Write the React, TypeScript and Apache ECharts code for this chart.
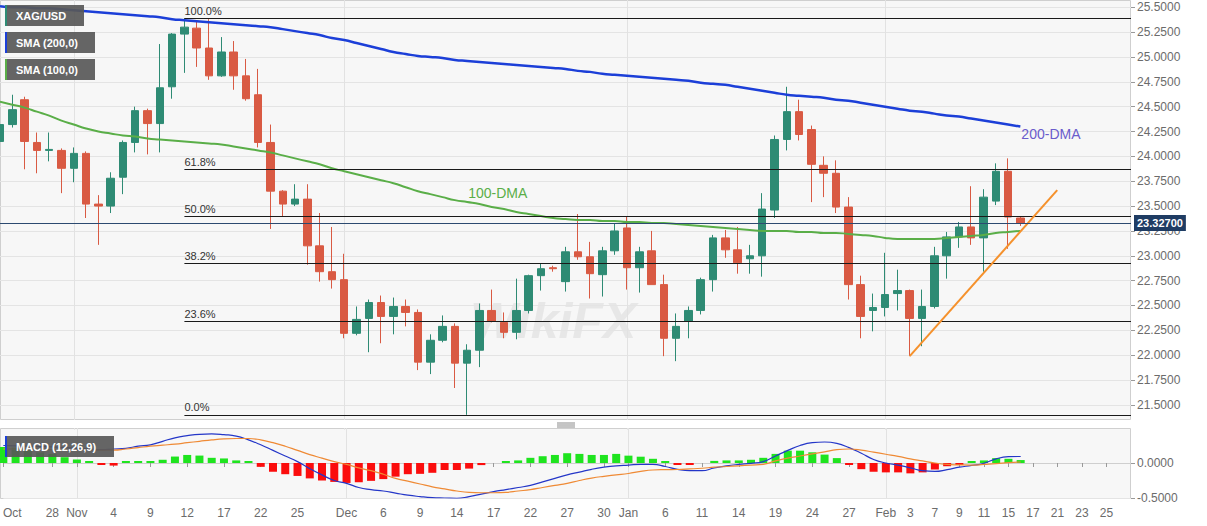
import { useEffect, useRef } from "react";
import * as echarts from "echarts";

// trading days (future days on the right are left empty)
const dates = [
  "2021-10-22", "2021-10-25", "2021-10-26", "2021-10-27", "2021-10-28", "2021-10-29",
  "2021-11-01", "2021-11-02", "2021-11-03", "2021-11-04", "2021-11-05",
  "2021-11-08", "2021-11-09", "2021-11-10", "2021-11-11", "2021-11-12",
  "2021-11-15", "2021-11-16", "2021-11-17", "2021-11-18", "2021-11-19",
  "2021-11-22", "2021-11-23", "2021-11-24", "2021-11-25", "2021-11-26",
  "2021-11-29", "2021-11-30", "2021-12-01", "2021-12-02", "2021-12-03",
  "2021-12-06", "2021-12-07", "2021-12-08", "2021-12-09", "2021-12-10",
  "2021-12-13", "2021-12-14", "2021-12-15", "2021-12-16", "2021-12-17",
  "2021-12-20", "2021-12-21", "2021-12-22", "2021-12-23", "2021-12-24",
  "2021-12-27", "2021-12-28", "2021-12-29", "2021-12-30", "2021-12-31",
  "2022-01-03", "2022-01-04", "2022-01-05", "2022-01-06", "2022-01-07",
  "2022-01-10", "2022-01-11", "2022-01-12", "2022-01-13", "2022-01-14",
  "2022-01-17", "2022-01-18", "2022-01-19", "2022-01-20", "2022-01-21",
  "2022-01-24", "2022-01-25", "2022-01-26", "2022-01-27", "2022-01-28",
  "2022-01-31", "2022-02-01", "2022-02-02", "2022-02-03", "2022-02-04",
  "2022-02-07", "2022-02-08", "2022-02-09", "2022-02-10", "2022-02-11",
  "2022-02-14", "2022-02-15", "2022-02-16", "2022-02-17", "2022-02-18",
  "2022-02-21", "2022-02-22", "2022-02-23", "2022-02-24", "2022-02-25",
  "2022-02-28", "2022-03-01"
];

const tickDates = [
  "2021-10-22", "2021-10-28", "2021-11-01", "2021-11-04", "2021-11-09", "2021-11-12",
  "2021-11-17", "2021-11-22", "2021-11-25", "2021-12-01", "2021-12-06", "2021-12-09",
  "2021-12-14", "2021-12-17", "2021-12-22", "2021-12-27", "2021-12-30", "2022-01-03",
  "2022-01-06", "2022-01-11", "2022-01-14", "2022-01-19", "2022-01-24", "2022-01-27",
  "2022-02-01", "2022-02-03", "2022-02-07", "2022-02-09", "2022-02-11", "2022-02-15",
  "2022-02-17", "2022-02-21", "2022-02-23", "2022-02-25"
];
const tickLabels = [
  "Oct", "28", "Nov", "4", "9", "12",
  "17", "22", "25", "Dec", "6", "9",
  "14", "17", "22", "27", "30", "Jan",
  "6", "11", "14", "19", "24", "27",
  "Feb", "3", "7", "9", "11", "15",
  "17", "21", "23", "25"
];
const monthStarts = ["2021-11-01", "2021-12-01", "2022-01-03", "2022-02-01"];

const opens = [
  24.15, 24.32, 24.57, 24.14, 24.06, 24.06, 23.88, 24.03, 23.52, 23.50,
  23.79, 24.14, 24.46, 24.33, 24.70, 25.23, 25.29, 25.09, 24.81, 25.05,
  24.81, 24.62, 24.14, 23.65, 23.52, 23.57, 23.10, 22.84, 22.76, 22.22,
  22.37, 22.53, 22.39, 22.49, 22.43, 21.93, 22.15, 22.29, 21.92, 22.05,
  22.45, 22.33, 22.23, 22.45, 22.80, 22.88, 22.74, 23.04, 22.99, 22.81,
  23.05, 23.28, 22.88, 23.05, 22.71, 22.17, 22.34, 22.45, 22.76, 23.18,
  23.06, 22.97, 23.00, 23.46, 24.17, 24.45, 24.27, 23.91, 23.83, 23.49,
  22.71, 22.45, 22.48, 22.62, 22.65, 22.37, 22.49, 23.00, 23.19, 23.29,
  23.18, 23.55, 23.85, 23.38
];
const closes = [
  24.32, 24.47, 24.15, 24.06, 24.07, 23.88, 24.03, 23.52, 23.50, 23.78,
  24.14, 24.46, 24.33, 24.69, 25.23, 25.30, 25.09, 24.81, 25.05, 24.81,
  24.58, 24.14, 23.65, 23.52, 23.57, 23.10, 22.84, 22.76, 22.22, 22.36,
  22.53, 22.39, 22.49, 22.43, 21.93, 22.15, 22.29, 21.92, 22.05, 22.45,
  22.34, 22.23, 22.45, 22.80, 22.87, 22.87, 23.04, 22.99, 22.82, 23.05,
  23.25, 22.88, 23.04, 22.71, 22.17, 22.29, 22.45, 22.76, 23.18, 23.06,
  22.93, 23.00, 23.47, 24.17, 24.45, 24.22, 23.92, 23.83, 23.49, 22.71,
  22.39, 22.48, 22.61, 22.65, 22.37, 22.49, 23.00, 23.19, 23.29, 23.18,
  23.59, 23.85, 23.39, 23.327
];
const lows = [
  24.10, 24.29, 23.87, 23.83, 23.95, 23.63, 23.74, 23.38, 23.11, 23.43,
  23.62, 24.04, 24.02, 24.04, 24.58, 24.84, 24.90, 24.77, 24.80, 24.67,
  24.56, 24.09, 23.27, 23.39, 23.50, 22.91, 22.74, 22.67, 22.17, 22.20,
  22.03, 22.12, 22.21, 22.29, 21.85, 21.81, 22.13, 21.67, 21.40, 21.88,
  22.33, 22.17, 22.16, 22.42, 22.65, 22.84, 22.64, 22.96, 22.57, 22.59,
  23.01, 22.66, 22.63, 22.71, 21.99, 21.94, 22.17, 22.41, 22.64, 22.98,
  22.82, 22.82, 22.79, 23.38, 24.06, 24.16, 23.54, 23.59, 23.43, 22.56,
  22.17, 22.24, 22.39, 22.45, 21.99, 22.09, 22.47, 22.77, 23.08, 23.11,
  22.84, 23.51, 23.07, 23.30
];
const highs = [
  24.45, 24.62, 24.60, 24.24, 24.24, 24.08, 24.09, 24.05, 23.61, 23.84,
  24.16, 24.50, 24.48, 25.13, 25.24, 25.39, 25.37, 25.38, 25.20, 25.16,
  24.98, 24.88, 24.32, 23.66, 23.72, 23.72, 23.43, 23.29, 23.02, 22.49,
  22.56, 22.60, 22.58, 22.56, 22.46, 22.21, 22.40, 22.32, 22.11, 22.52,
  22.66, 22.43, 22.77, 22.81, 22.92, 22.90, 23.09, 23.42, 23.14, 23.09,
  23.33, 23.39, 23.09, 23.25, 22.81, 22.42, 22.49, 22.78, 23.21, 23.26,
  23.29, 23.11, 23.63, 24.21, 24.70, 24.57, 24.31, 24.00, 23.96, 23.59,
  22.80, 22.62, 23.03, 22.86, 22.66, 22.66, 23.09, 23.24, 23.34, 23.70,
  23.67, 23.93, 23.98, 23.39
];

const sma200 = [
  25.51, 25.50, 25.50, 25.49, 25.49, 25.48, 25.47, 25.46, 25.45, 25.44,
  25.43, 25.42, 25.41, 25.40, 25.38, 25.37, 25.36, 25.35, 25.34, 25.33,
  25.32, 25.31, 25.30, 25.28, 25.26, 25.24, 25.22, 25.19, 25.17, 25.14,
  25.11, 25.08, 25.05, 25.03, 25.01, 25.00, 24.99, 24.97, 24.96, 24.95,
  24.94, 24.93, 24.92, 24.91, 24.90, 24.89, 24.88, 24.86, 24.85, 24.83,
  24.82, 24.81, 24.80, 24.79, 24.78, 24.77, 24.76, 24.74, 24.73, 24.72,
  24.70, 24.68, 24.66, 24.64, 24.62, 24.61, 24.60, 24.59, 24.57, 24.56,
  24.54, 24.52, 24.50, 24.48, 24.46, 24.45, 24.43, 24.41, 24.40, 24.38,
  24.36, 24.34, 24.32, 24.30
];
const sma100 = [
  24.55, 24.52, 24.49, 24.45, 24.41, 24.36, 24.32, 24.28, 24.25, 24.23,
  24.21, 24.20, 24.18, 24.17, 24.16, 24.15, 24.14, 24.13, 24.12, 24.10,
  24.08, 24.06, 24.04, 24.01, 23.98, 23.95, 23.92, 23.88, 23.85, 23.82,
  23.79, 23.76, 23.73, 23.69, 23.65, 23.62, 23.59, 23.56, 23.54, 23.52,
  23.49, 23.47, 23.44, 23.42, 23.40, 23.38, 23.37, 23.36, 23.36, 23.35,
  23.35, 23.34, 23.34, 23.33, 23.33, 23.32, 23.31, 23.30, 23.29, 23.28,
  23.27, 23.26, 23.25, 23.25, 23.25, 23.24, 23.24, 23.23, 23.23, 23.22,
  23.21, 23.20, 23.18, 23.17, 23.17, 23.17, 23.17, 23.18, 23.19, 23.20,
  23.21, 23.23, 23.24, 23.25
];

const macdLine = [
  0.25, 0.245, 0.24, 0.235, 0.23, 0.22, 0.21, 0.20, 0.19, 0.20,
  0.21, 0.24, 0.26, 0.31, 0.36, 0.39, 0.41, 0.415, 0.405, 0.385,
  0.33, 0.26, 0.18, 0.10, 0.02, -0.08, -0.17, -0.25, -0.29, -0.35,
  -0.38, -0.40, -0.43, -0.46, -0.48, -0.495, -0.50, -0.505, -0.48, -0.445,
  -0.41, -0.38, -0.35, -0.32, -0.27, -0.22, -0.17, -0.13, -0.09, -0.06,
  -0.04, -0.03, -0.02, -0.02, -0.05, -0.09, -0.11, -0.11, -0.07, -0.04,
  -0.02, -0.005, 0.02, 0.10, 0.18, 0.25, 0.29, 0.30, 0.28, 0.22,
  0.14, 0.05, 0.0, -0.03, -0.07, -0.11, -0.12, -0.095, -0.06, -0.035,
  -0.005, 0.06, 0.09, 0.093
];
const signalLine = [
  0.20, 0.20, 0.20, 0.20, 0.19, 0.19, 0.19, 0.185, 0.185, 0.185,
  0.20, 0.22, 0.24, 0.255, 0.27, 0.29, 0.31, 0.33, 0.345, 0.35,
  0.35, 0.33, 0.29, 0.24, 0.18, 0.12, 0.07, 0.02, -0.02, -0.07,
  -0.11, -0.16, -0.22, -0.26, -0.30, -0.34, -0.37, -0.40, -0.42, -0.425,
  -0.425, -0.42, -0.40, -0.38, -0.35, -0.32, -0.29, -0.25, -0.215, -0.19,
  -0.17, -0.15, -0.12, -0.10, -0.095, -0.093, -0.085, -0.075, -0.06, -0.05,
  -0.04, -0.03, -0.02, 0.03, 0.07, 0.10, 0.13, 0.16, 0.19, 0.20,
  0.185, 0.155, 0.125, 0.095, 0.06, 0.03, 0.0, -0.02, -0.027, -0.03,
  -0.02, -0.01, 0.005, 0.014
];
const macdHist = [
  0.23, 0.22, 0.185, 0.15, 0.13, 0.083, 0.05, 0.005, -0.028, -0.037,
  0.01, 0.014, 0.028, 0.046, 0.092, 0.115, 0.106, 0.074, 0.065, 0.037,
  0.005, -0.055, -0.125, -0.16, -0.185, -0.22, -0.25, -0.27, -0.285, -0.275,
  -0.255, -0.23, -0.195, -0.16, -0.155, -0.14, -0.10, -0.10, -0.08, -0.03,
  null, 0.01, 0.037, 0.074, 0.097, 0.115, 0.14, 0.13, 0.115, 0.115,
  0.13, 0.105, 0.09, 0.06, 0.005, -0.005, -0.005, null, 0.03, 0.037,
  0.037, 0.046, 0.074, 0.13, 0.176, 0.176, 0.153, 0.12, 0.07, -0.014,
  -0.088, -0.125, -0.134, -0.134, -0.148, -0.134, -0.093, -0.046, -0.005, 0.005,
  0.037, 0.07, 0.06, 0.042
];

const fibLevels = [25.39, 23.87, 23.395, 22.925, 22.34, 21.40];
const fibLabels = ["100.0%", "61.8%", "50.0%", "38.2%", "23.6%", "0.0%"];
const fibStart = "2021-11-12";
const trendStart: [string, number] = ["2022-02-03", 21.99];
const trendEnd: [string, number] = ["2022-02-21", 23.66];
const lastPrice = 23.327;

const FONT = "'Liberation Sans', Arial, sans-serif";
const UP = "#2e8b74";
const DOWN = "#d95a43";
const BLUE = "#1c3fd8";
const GREEN = "#5aae48";
const AXIS_TEXT = "#6b6b6b";

function legendBox(x: number, y: number, w: number, bar: string, text: string) {
  return {
    type: "group",
    x,
    y,
    z: 100,
    children: [
      { type: "rect", shape: { x: 0, y: 0, width: w, height: 21 }, style: { fill: "rgba(88,88,88,0.92)" }, z: 100 },
      { type: "rect", shape: { x: 0, y: 0, width: 2, height: 21 }, style: { fill: bar }, z: 101 },
      {
        type: "text",
        x: 11,
        y: 10.5,
        z: 101,
        style: { text, fill: "#fff", font: `bold 11px ${FONT}`, verticalAlign: "middle" }
      }
    ]
  };
}

export default function App() {
  const ref = useRef<HTMLDivElement | null>(null);

  useEffect(() => {
    if (!ref.current) {
      return;
    }
    const chart = echarts.init(ref.current, null, { renderer: "svg" });

    const tickIdx = tickDates.map((d) => dates.indexOf(d));
    const monthIdx = monthStarts.map((d) => dates.indexOf(d));
    const lastDate = dates[dates.length - 1];

    const fibLines = fibLevels.map((lvl, i) => [
      {
        coord: [fibStart, lvl],
        lineStyle: { color: "#1a1a1a", width: 1.2, type: "solid" },
        label: {
          show: true,
          position: "insideStartTop",
          formatter: fibLabels[i],
          color: "#333",
          fontSize: 11,
          fontFamily: FONT,
          distance: [0, 2]
        }
      },
      { coord: [lastDate, lvl] }
    ]);

    chart.setOption({
      animation: false,
      textStyle: { fontFamily: FONT },
      grid: [
        { left: 0, right: 76, top: 0, height: 429.75 },
        { left: 0, right: 76, top: 428, height: 70 }
      ],
      xAxis: [
        {
          type: "category",
          gridIndex: 0,
          data: dates,
          boundaryGap: false,
          axisLine: { show: false },
          axisTick: { show: false },
          axisLabel: { show: false },
          splitLine: {
            show: true,
            interval: (i: number) => monthIdx.includes(i),
            lineStyle: { color: "#e2e2e2", width: 1 }
          }
        },
        {
          type: "category",
          gridIndex: 1,
          data: dates,
          boundaryGap: false,
          axisLine: { show: true, lineStyle: { color: "#cfcfcf" } },
          axisTick: {
            show: true,
            length: 4,
            interval: (i: number) => tickIdx.includes(i),
            lineStyle: { color: "#999" }
          },
          axisLabel: {
            show: true,
            interval: (i: number) => tickIdx.includes(i),
            margin: 9,
            color: AXIS_TEXT,
            fontSize: 12,
            fontFamily: FONT,
            formatter: (_v: string, i: number) => {
              const k = tickIdx.indexOf(i);
              if (k < 0) {
                return "";
              }
              return i === 0 ? `{first|${tickLabels[k]}}` : tickLabels[k];
            },
            rich: {
              first: { padding: [0, 0, 0, 18], color: AXIS_TEXT, fontSize: 12, fontFamily: FONT }
            }
          },
          splitLine: {
            show: true,
            interval: (i: number) => monthIdx.includes(i),
            lineStyle: { color: "#e2e2e2", width: 1 }
          }
        }
      ],
      yAxis: [
        {
          type: "value",
          gridIndex: 0,
          position: "right",
          min: 21.25,
          max: 25.573,
          interval: 0.25,
          axisLine: { show: false },
          axisTick: { show: true, length: 4, lineStyle: { color: "#999" } },
          axisLabel: {
            color: AXIS_TEXT,
            fontSize: 12,
            fontFamily: FONT,
            margin: 6,
            showMinLabel: false,
            showMaxLabel: false,
            formatter: (v: number) => v.toFixed(4)
          },
          splitLine: {
            show: true,
            showMinLine: false,
            showMaxLine: false,
            lineStyle: { color: "#e4e4e4", width: 1 }
          }
        },
        {
          type: "value",
          gridIndex: 1,
          position: "right",
          min: -0.5,
          max: 0.5,
          interval: 0.5,
          axisLine: { show: false },
          axisTick: { show: true, length: 4, lineStyle: { color: "#999" } },
          axisLabel: {
            color: AXIS_TEXT,
            fontSize: 12,
            fontFamily: FONT,
            margin: 6,
            showMaxLabel: false,
            formatter: (v: number) => v.toFixed(4)
          },
          splitLine: {
            show: true,
            showMaxLine: false,
            lineStyle: { color: "#e4e4e4", width: 1 }
          }
        }
      ],
      series: [
        {
          name: "XAG/USD",
          type: "candlestick",
          xAxisIndex: 0,
          yAxisIndex: 0,
          barWidth: 8,
          data: opens.map((o, i) => [o, closes[i], lows[i], highs[i]]),
          itemStyle: {
            color: UP,
            color0: DOWN,
            borderColor: UP,
            borderColor0: DOWN,
            borderWidth: 1
          },
          markLine: {
            silent: true,
            symbol: ["none", "none"],
            animation: false,
            data: [
              ...fibLines,
              [
                {
                  coord: trendStart,
                  lineStyle: { color: "#f5912c", width: 2, type: "solid" },
                  label: { show: false }
                },
                { coord: trendEnd }
              ],
              {
                yAxis: lastPrice,
                lineStyle: { color: "#2c4a70", width: 1, type: "solid" },
                label: {
                  show: true,
                  position: "end",
                  distance: 3,
                  formatter: lastPrice.toFixed(5),
                  color: "#fff",
                  fontWeight: "bold",
                  fontSize: 11,
                  fontFamily: FONT,
                  backgroundColor: "#1f3c63",
                  padding: [3, 3, 2, 3]
                }
              }
            ]
          }
        },
        {
          name: "SMA (200,0)",
          type: "line",
          xAxisIndex: 0,
          yAxisIndex: 0,
          data: sma200,
          smooth: true,
          showSymbol: false,
          lineStyle: { color: BLUE, width: 2.5 },
          endLabel: {
            show: true,
            formatter: "200-DMA",
            color: "#6a5ccc",
            fontSize: 14,
            fontFamily: FONT,
            distance: 1,
            offset: [0, 7]
          }
        },
        {
          name: "SMA (100,0)",
          type: "line",
          xAxisIndex: 0,
          yAxisIndex: 0,
          data: sma100,
          smooth: true,
          showSymbol: false,
          lineStyle: { color: GREEN, width: 2 },
          markPoint: {
            silent: true,
            animation: false,
            data: [
              {
                coord: ["2021-12-17", 23.63],
                symbol: "rect",
                symbolSize: 1,
                itemStyle: { color: "rgba(0,0,0,0)" },
                label: {
                  show: true,
                  position: "inside",
                  offset: [6, 0],
                  formatter: "100-DMA",
                  color: GREEN,
                  fontSize: 14,
                  fontFamily: FONT
                }
              }
            ]
          }
        },
        {
          name: "Histogram",
          type: "bar",
          xAxisIndex: 1,
          yAxisIndex: 1,
          data: macdHist,
          barWidth: 8,
          barMinHeight: 2,
          itemStyle: {
            color: (p: { value: number }) => (p.value >= 0 ? "#1fe41f" : "#fb0d0d")
          }
        },
        {
          name: "MACD",
          type: "line",
          xAxisIndex: 1,
          yAxisIndex: 1,
          data: macdLine,
          smooth: true,
          showSymbol: false,
          lineStyle: { color: "#2436c8", width: 1.2 }
        },
        {
          name: "Signal",
          type: "line",
          xAxisIndex: 1,
          yAxisIndex: 1,
          data: signalLine,
          smooth: true,
          showSymbol: false,
          lineStyle: { color: "#ef8a35", width: 1.2 }
        }
      ],
      graphic: [
        {
          type: "rect",
          z: -10,
          shape: { x: 0.5, y: 0.5, width: 1130, height: 419 },
          style: { fill: "#f7f7f7", stroke: "#cfcfcf", lineWidth: 1 }
        },
        {
          type: "rect",
          z: -10,
          shape: { x: 0.5, y: 428.5, width: 1130, height: 70 },
          style: { fill: "#f7f7f7", stroke: "#cfcfcf", lineWidth: 1 }
        },
        {
          type: "text",
          z: -5,
          x: 470,
          y: 296,
          style: { text: "WikiFX", fill: "rgba(190,190,190,0.28)", font: `bold italic 50px ${FONT}` }
        },
        {
          type: "rect",
          z: 50,
          shape: { x: 0, y: 420, width: 1131, height: 8 },
          style: { fill: "#ffffff" }
        },
        {
          type: "group",
          z: 60,
          children: [0, 2, 4].map((dy) => ({
            type: "line",
            z: 60,
            shape: { x1: 557, y1: 423 + dy, x2: 575, y2: 423 + dy },
            style: { stroke: "#8a8a8a", lineWidth: 1 }
          }))
        },
        legendBox(5, 5, 79, UP, "XAG/USD"),
        legendBox(5, 32, 90, BLUE, "SMA (200,0)"),
        legendBox(5, 59, 90, GREEN, "SMA (100,0)"),
        legendBox(5, 436, 109, BLUE, "MACD (12,26,9)")
      ]
    });

    return () => {
      chart.dispose();
    };
  }, []);

  return (
    <div
      ref={ref}
      style={{ position: "fixed", left: 0, top: 0, width: 1207, height: 526, background: "#ffffff" }}
    />
  );
}
